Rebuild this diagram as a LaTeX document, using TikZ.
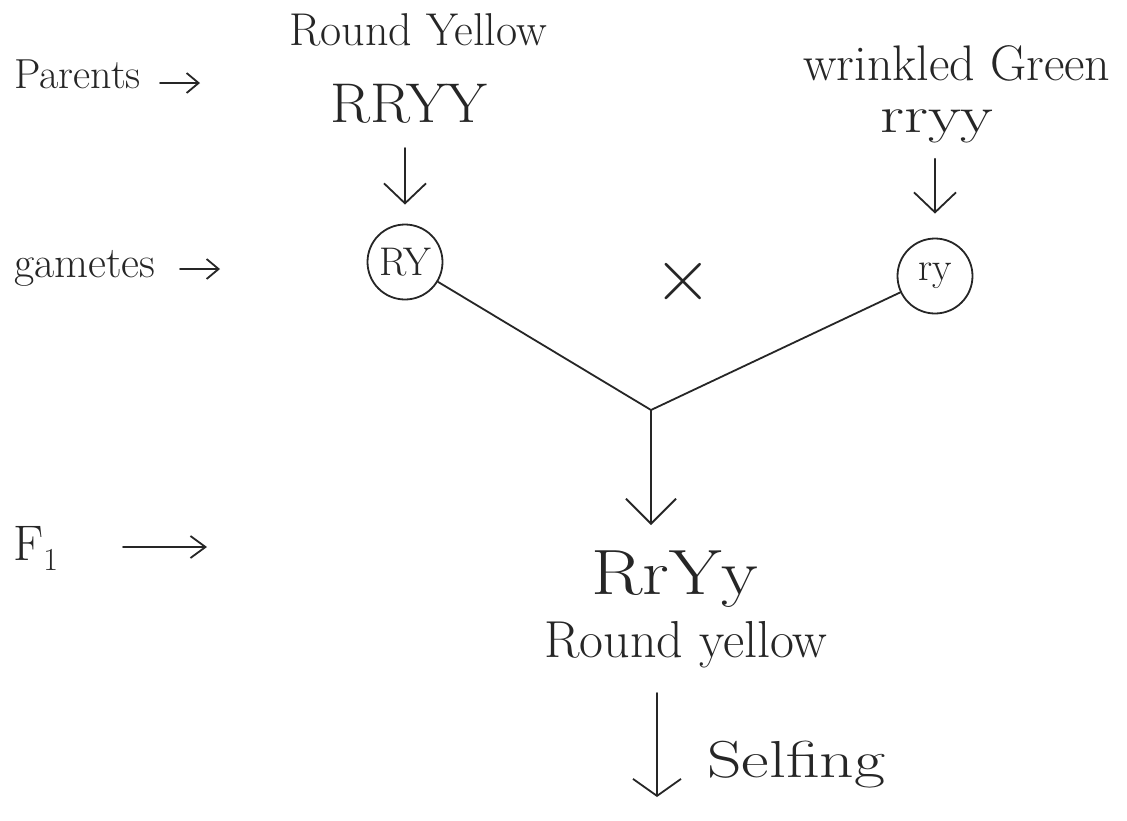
\documentclass[tikz,border=0pt]{standalone}
\usepackage{fontspec}
\usepackage{graphicx}
\usetikzlibrary{arrows.meta}
\newcommand{\fsz}[1]{\fontsize{#1}{#1}\selectfont}
\newcommand{\wide}[2]{\scalebox{#1}[1]{#2}}
\begin{document}
\begin{tikzpicture}[x=1pt,y=-1pt,
  ink/.style={black!85},
  txt/.style={ink, inner sep=0pt},
  gam/.style={ink, draw, circle, line width=1.8pt, minimum size=75pt, inner sep=0pt, font=\fsz{40}},
  pen/.style={ink, line width=1.8pt, line cap=round},
  darr/.style={pen, -{Straight Barb[length=20pt,width=42pt]}},
  sarr/.style={pen, -{Straight Barb[length=12pt,width=20pt]}},
]
\path[fill=white] (0,0) rectangle (1127,820);
% left labels
\node[txt, anchor=base west, font=\fsz{42}] (parents) at (14,88) {Parents};
\coordinate (pa1) at (160,83); \coordinate (pa2) at (200,83);
\draw[sarr] (pa1) -- (pa2);
\node[txt, anchor=base west, font=\fsz{44}] (gametes) at (14,277) {gametes};
\coordinate (ga1) at (180,269); \coordinate (ga2) at (220,269);
\draw[sarr] (ga1) -- (ga2);
\node[txt, anchor=base west, font=\fsz{50}] (F1) at (13,560) {F\raisebox{-10pt}{\fsz{32}1}};
\coordinate (fa1) at (123,547); \coordinate (fa2) at (207,547);
\draw[pen, -{Straight Barb[length=15pt,width=22pt]}] (fa1) -- (fa2);
% parents
\node[txt, anchor=base, font=\fsz{46}] (pRY) at (418,45) {Round Yellow};
\node[txt, anchor=base, font=\fsz{56}] (RRYY) at (409,122) {\wide{1.05}{RRYY}};
\node[txt, anchor=base, font=\fsz{50}] (pWG) at (957,80) {wrinkled Green};
\node[txt, anchor=base, font=\fsz{52}] (rryy) at (937,132) {\wide{1.3}{rryy}};
% gametes
\node[gam] (gRY) at (405,262) {RY};
\node[gam] (gry) at (935,276) {ry};
\node[txt, font=\fsz{80}] (cross) at (683,282) {×};
\draw[darr, shorten <=25pt, shorten >=19pt] (RRYY.south -| gRY) -- (gRY.north);
\draw[darr, shorten <=16pt, shorten >=24pt] (rryy.south -| gry) -- (gry.north);
% cross lines
\coordinate (j) at (651,410);
\draw[pen] (gRY) -- (j);
\draw[pen] (gry) -- (j);
% F1
\node[txt, anchor=base, font=\fsz{64}] (RrYy) at (675,594) {\wide{1.18}{RrYy}};
\node[txt, anchor=base, font=\fsz{52}] (F1ph) at (686,657) {Round yellow};
\draw[pen, -{Straight Barb[length=25pt,width=50pt]}] (j) -- (j |- 0,525);
\coordinate (s1) at (657,693); \coordinate (s2) at (657,797);
\draw[pen, -{Straight Barb[length=17pt,width=48pt]}] (s1) -- (s2);
\node[txt, anchor=base west, font=\fsz{52}] (selfing) at (707,777) {\wide{1.3}{Selfing}};
\end{tikzpicture}
\end{document}
